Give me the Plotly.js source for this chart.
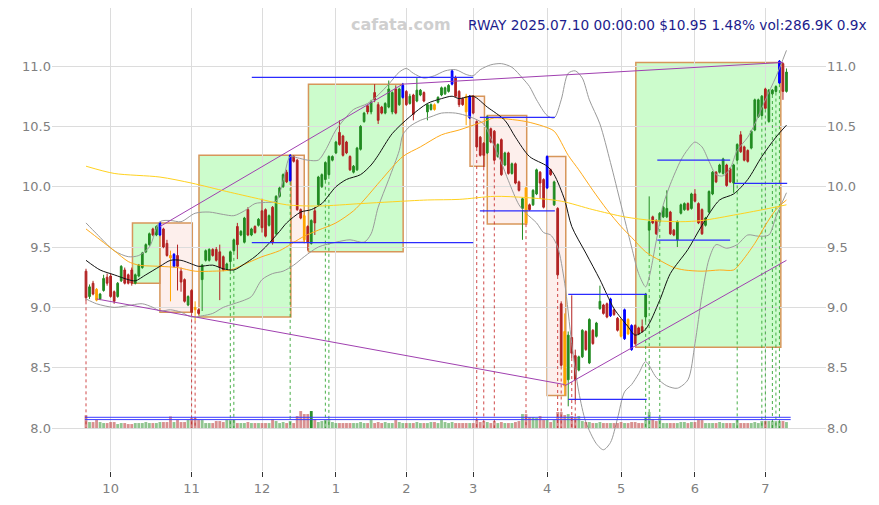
<!DOCTYPE html>
<html><head><meta charset="utf-8">
<script src="https://cdn.plot.ly/plotly-3.0.1.min.js"></script>
<style>html,body{margin:0;padding:0;background:#fff;} #chart{width:879px;height:505px;}</style>
</head><body><div id="chart"></div>
<script>
// ---- daily candles (trading-day index 0..199, 2024-09-20 .. 2025-07-10) ----
const openP = [
9.30,9.09,9.20,9.15,9.07,9.14,9.25,9.26,9.13,9.09,
9.22,9.31,9.27,9.31,9.20,9.26,9.33,9.46,9.52,9.65,
9.60,9.60,9.65,9.53,9.43,9.34,9.43,9.30,9.23,9.02,
9.14,9.00,8.98,9.23,9.39,9.39,9.48,9.48,9.46,9.42,
9.32,9.38,9.47,9.67,9.60,9.54,9.81,9.60,9.67,9.68,
9.80,9.81,9.68,9.83,9.61,9.92,10.00,10.12,10.05,10.25,
10.22,9.81,9.76,9.67,9.53,9.80,9.85,10.00,10.06,10.10,
10.22,10.28,10.45,10.42,10.37,10.25,10.12,10.14,10.31,10.54,
10.67,10.62,10.78,10.68,10.66,10.61,10.66,10.62,10.81,10.68,
10.74,10.79,10.69,10.76,10.71,10.76,10.78,10.62,10.64,10.68,
10.70,10.76,10.77,10.79,10.85,10.90,10.79,10.73,10.75,10.57,
10.75,10.54,10.41,10.36,10.28,10.48,10.46,10.25,10.39,10.18,
10.28,10.11,10.19,10.04,9.82,9.99,9.85,9.85,9.94,10.12,
10.06,9.99,10.14,9.85,9.82,9.03,8.80,8.40,8.75,8.60,
8.48,8.59,8.80,8.54,8.81,8.76,8.99,9.02,9.03,8.93,
8.98,8.91,8.90,8.74,8.90,8.85,8.85,8.83,8.84,8.92,
9.64,9.75,9.72,9.71,9.75,9.75,9.79,9.64,9.56,9.78,
9.81,9.86,9.82,9.94,9.86,9.81,9.68,9.79,9.94,10.12,
10.12,10.11,10.18,10.15,10.03,10.22,10.43,10.33,10.30,10.32,
10.47,10.58,10.59,10.81,10.54,10.77,10.79,10.86,11.02,10.79];
const highP = [
9.32,9.19,9.22,9.16,9.12,9.27,9.28,9.28,9.14,9.21,
9.35,9.33,9.28,9.33,9.28,9.36,9.46,9.53,9.62,9.66,
9.68,9.71,9.66,9.56,9.47,9.45,9.52,9.33,9.24,9.10,
9.15,9.05,8.99,9.36,9.48,9.49,9.49,9.50,9.52,9.43,
9.37,9.47,9.57,9.70,9.64,9.75,9.83,9.66,9.68,9.74,
9.90,9.82,9.77,9.84,9.93,10.00,10.11,10.14,10.27,10.26,
10.23,9.82,9.77,9.68,9.73,9.83,10.09,10.11,10.21,10.26,
10.26,10.38,10.55,10.43,10.38,10.26,10.18,10.33,10.51,10.62,
10.68,10.72,10.85,10.70,10.67,10.70,10.88,10.79,10.84,10.82,
10.86,10.80,10.77,10.77,10.90,10.81,10.79,10.69,10.69,10.69,
10.75,10.83,10.83,10.85,10.97,10.92,10.80,10.74,10.77,10.76,
10.76,10.55,10.42,10.37,10.59,10.49,10.47,10.36,10.40,10.29,
10.29,10.20,10.20,10.05,9.91,10.00,9.86,9.98,10.15,10.13,
10.07,10.26,10.15,10.05,9.83,9.05,8.95,8.80,9.10,8.65,
8.60,8.82,8.81,8.91,8.82,8.88,9.18,9.03,9.04,9.08,
8.99,8.92,8.91,8.99,8.91,8.86,8.86,8.84,8.90,9.12,
9.92,9.76,9.73,9.79,9.84,9.97,9.80,9.65,9.72,9.86,
9.87,9.87,9.95,9.98,9.87,9.82,9.75,9.97,10.13,10.13,
10.19,10.24,10.19,10.16,10.19,10.36,10.46,10.34,10.31,10.47,
10.73,10.73,10.76,10.82,10.81,10.81,10.84,11.05,11.03,10.98];
const lowP = [
9.05,9.07,9.10,9.05,9.06,9.13,9.18,9.08,9.03,9.08,
9.21,9.19,9.19,9.18,9.19,9.25,9.32,9.45,9.51,9.59,
9.59,9.59,9.49,9.42,9.05,9.33,9.14,9.13,9.04,9.01,
8.95,8.89,8.94,8.97,9.38,9.38,9.42,9.38,9.06,9.30,
9.31,9.30,9.46,9.40,9.59,9.53,9.59,9.59,9.61,9.67,
9.62,9.58,9.67,9.52,9.60,9.91,9.99,10.03,10.04,10.20,
9.80,9.73,9.53,9.47,9.52,9.60,9.84,9.99,10.05,10.09,
10.21,10.27,10.34,10.25,10.27,10.13,10.11,10.13,10.30,10.53,
10.60,10.60,10.70,10.52,10.60,10.60,10.65,10.60,10.60,10.67,
10.73,10.67,10.68,10.55,10.70,10.75,10.70,10.55,10.63,10.63,
10.69,10.75,10.76,10.78,10.84,10.74,10.66,10.67,10.51,10.56,
10.60,10.32,10.25,10.16,10.27,10.36,10.21,10.24,10.09,10.17,
10.10,10.10,10.02,9.96,9.56,9.69,9.80,9.84,9.93,9.90,
9.82,9.98,10.09,9.84,9.26,8.51,8.27,8.18,8.58,8.22,
8.47,8.58,8.64,8.53,8.69,8.75,8.98,8.94,8.91,8.92,
8.93,8.80,8.75,8.73,8.77,8.64,8.69,8.77,8.79,8.88,
9.45,9.69,9.60,9.70,9.74,9.74,9.60,9.59,9.50,9.77,
9.80,9.80,9.81,9.87,9.69,9.60,9.67,9.78,9.93,10.03,
10.11,10.10,10.00,10.03,9.95,10.21,10.28,10.21,10.20,10.31,
10.46,10.57,10.58,10.64,10.53,10.76,10.78,10.85,10.72,10.78];
const closeP = [
9.08,9.17,9.11,9.06,9.11,9.24,9.20,9.09,9.05,9.20,
9.34,9.20,9.20,9.20,9.27,9.35,9.45,9.52,9.61,9.60,
9.67,9.70,9.50,9.43,9.41,9.44,9.34,9.21,9.05,9.09,
8.96,8.98,8.95,9.35,9.47,9.48,9.43,9.39,9.33,9.31,
9.36,9.46,9.56,9.52,9.63,9.74,9.60,9.65,9.62,9.73,
9.66,9.59,9.76,9.54,9.92,9.99,10.10,10.04,10.26,10.21,
9.81,9.74,9.56,9.54,9.72,9.70,10.08,10.10,10.20,10.25,
10.25,10.37,10.35,10.26,10.28,10.14,10.17,10.32,10.50,10.61,
10.62,10.70,10.72,10.55,10.61,10.69,10.81,10.78,10.61,10.81,
10.84,10.68,10.75,10.60,10.80,10.80,10.71,10.68,10.68,10.64,
10.74,10.82,10.82,10.84,10.96,10.75,10.68,10.68,10.62,10.75,
10.61,10.33,10.26,10.26,10.58,10.37,10.22,10.35,10.10,10.28,
10.11,10.19,10.03,9.97,9.90,9.70,9.81,9.97,10.14,10.03,
9.83,10.25,10.10,10.04,9.27,8.52,8.35,8.77,8.62,8.40,
8.59,8.81,8.65,8.90,8.70,8.87,9.05,8.95,8.92,9.07,
8.94,8.81,8.76,8.98,8.78,8.65,8.70,8.78,8.80,9.11,
9.71,9.70,9.61,9.78,9.83,9.82,9.61,9.60,9.71,9.85,
9.86,9.81,9.94,9.88,9.70,9.61,9.74,9.96,10.12,10.04,
10.18,10.23,10.01,10.04,10.18,10.35,10.29,10.22,10.21,10.46,
10.72,10.72,10.75,10.65,10.80,10.80,10.83,11.04,10.79,10.95];
// volume in thousands of shares
const volumeK = [
610,288,288,384,288,240,240,288,288,192,
240,240,192,192,240,240,240,288,240,240,
240,288,288,288,560,288,384,288,288,384,
480,480,384,384,240,240,240,336,336,288,
384,384,384,240,240,240,288,240,240,240,
240,240,240,432,336,240,288,240,336,240,
576,816,672,672,816,432,288,336,384,432,
288,240,240,240,240,240,240,240,288,240,
240,384,240,288,240,288,240,240,384,288,
240,240,240,240,288,240,240,240,288,288,
240,384,288,240,288,240,240,240,240,240,
240,384,288,336,288,240,336,240,288,240,
240,240,288,336,672,672,528,528,480,576,
384,384,288,384,768,768,624,672,576,528,
576,336,288,288,240,240,288,240,240,240,
240,240,288,240,240,288,288,240,240,528,
768,432,336,480,240,240,240,240,240,288,
288,240,288,288,384,384,240,240,240,240,
288,240,240,240,240,432,240,240,240,240,
288,240,336,336,336,336,336,336,336,287];
const volHighlight = [64];
const volLevels = [515, 405];

// highlighted candles
const blueIdx = [21,25,58,90,104,109,131,149,153,155,197];
const orangeIdx = [3,24,31,62,99,108,125,136,152,154];
// dotted signal drops
const dotRedIdx = [0,30,31,111,113,116,125,134,135,138,139];
const dotGreenIdx = [41,42,58,68,69,159,160,163,185,192,193,195,196,197];

// month ticks (first trading day of each month)
const monthIdx = [7,30,50,71,91,110,131,152,173,193];
const monthLbl = ['10','11','12','1','2','3','4','5','6','7'];

const ma20X = [0,4,8,12,14,17,21,24,27,30,32,36,39,42,45,48,51,55,57,61,64,67,69,71,74,78,81,83,87,92,97,101,104,106,110,114,119,122,126,131,133,136,138,142,146,150,154,156,159,163,166,171,175,180,184,188,192,196,199];
const ma20Y = [9.39,9.31,9.27,9.23,9.22,9.27,9.34,9.39,9.39,9.36,9.34,9.35,9.32,9.31,9.36,9.42,9.50,9.63,9.70,9.79,9.81,9.86,9.93,10.00,10.06,10.10,10.18,10.26,10.44,10.58,10.69,10.73,10.75,10.73,10.75,10.66,10.55,10.41,10.25,10.17,10.10,9.89,9.67,9.45,9.23,8.99,8.84,8.77,8.82,9.06,9.28,9.48,9.68,9.89,9.94,10.06,10.25,10.41,10.51];
const bbUpX = [0,3,8,12,15,18,21,24,27,31,35,39,42,45,48,51,54,56,58,60,63,66,68,71,74,76,80,83,86,89,91,93,96,99,102,105,108,110,112,115,118,121,124,126,128,131,133,135,137,139,141,143,146,149,152,155,157,159,160,162,164,166,169,171,173,175,177,179,181,183,185,188,190,193,196,199];
const bbUpY = [9.70,9.61,9.47,9.42,9.43,9.50,9.71,9.72,9.71,9.78,9.79,9.77,9.76,9.80,9.86,9.87,9.88,10.05,10.25,10.24,10.22,10.22,10.30,10.47,10.58,10.64,10.69,10.76,10.85,10.95,10.98,10.94,10.90,10.92,10.96,10.97,10.93,10.92,10.97,11.01,11.02,10.99,10.90,10.83,10.72,10.59,10.57,10.72,10.94,10.96,10.90,10.72,10.52,10.20,9.85,9.50,9.28,9.17,9.25,9.55,9.85,10.02,10.22,10.31,10.37,10.33,10.21,10.10,10.09,10.15,10.30,10.41,10.52,10.72,10.91,11.13];
const bbLoX = [0,3,8,13,16,19,21,24,27,30,33,36,39,42,45,47,50,53,56,59,62,66,71,75,79,81,83,86,89,90,92,95,98,101,105,109,113,115,118,120,123,125,128,130,132,134,136,138,140,142,145,147,149,151,153,155,157,159,162,165,168,171,173,175,177,179,182,185,188,191,194,196,199];
const bbLoY = [9.07,9.03,9.00,9.02,9.03,9.00,8.97,8.98,8.96,8.92,8.93,8.95,9.00,9.03,9.06,9.09,9.23,9.28,9.30,9.35,9.42,9.50,9.54,9.56,9.54,9.61,9.83,10.06,10.30,10.43,10.50,10.55,10.58,10.61,10.61,10.58,10.52,10.40,10.20,10.05,9.85,9.78,9.70,9.62,9.60,9.50,9.20,8.70,8.30,8.05,7.87,7.82,7.88,8.08,8.30,8.36,8.45,8.55,8.42,8.35,8.33,8.40,8.70,9.10,9.40,9.52,9.49,9.52,9.60,9.59,9.60,9.75,9.95];
const ma50X = [0,4,8,12,15,21,26,31,36,41,46,50,55,62,66,71,76,79,84,90,95,101,106,112,116,120,125,130,133,137,140,144,148,152,155,159,163,167,170,175,180,184,186,190,193,196,199];
const ma50Y = [9.65,9.56,9.47,9.38,9.35,9.34,9.33,9.30,9.30,9.31,9.37,9.42,9.47,9.59,9.64,9.70,9.80,9.89,10.06,10.25,10.33,10.43,10.47,10.53,10.57,10.56,10.54,10.50,10.46,10.26,10.14,9.97,9.81,9.67,9.58,9.46,9.39,9.33,9.31,9.30,9.31,9.31,9.37,9.53,9.68,9.81,9.89];
const ma200X = [0,8,21,30,40,49,57,66,78,87,97,106,116,125,135,144,153,161,169,175,185,194,199];
const ma200Y = [10.17,10.11,10.08,10.03,9.96,9.90,9.85,9.84,9.86,9.875,9.89,9.895,9.92,9.91,9.88,9.81,9.75,9.72,9.71,9.72,9.77,9.82,9.85];

// trend lines (segments separated by null)
const trendX = [3,136,null,21,90,null,90,198,null,136,199];
const trendY = [9.07,8.36,null,9.67,10.85,null,10.85,11.03,null,8.35,9.39];
// support / resistance levels
const levelX0 = [47.1,47.1,111.9,111.9,137,137,162.3,162.3,184.1];
const levelX1 = [110,110,133.2,133.2,159.3,159.3,183,183,199.2];
const levelY  = [10.906,9.536,10.575,9.80,9.108,8.238,10.221,9.558,10.028];
// consolidation boxes
const boxX0 = [13.2,21.0,32.1,58.2,63.2,109.1,114.0,131.0,156.2];
const boxX1 = [21.0,30.2,58.2,62.0,90.1,113.2,125.2,136.3,197.4];
const boxLo = [9.20,8.96,8.92,9.54,9.46,10.17,9.69,8.27,8.67];
const boxHi = [9.70,9.70,10.26,10.26,10.85,10.75,10.59,10.25,11.03];
const boxKind = ['g','p','g','p','g','p','p','p','g'];

const titleText = 'RWAY 2025.07.10 00:00:00 $10.95 1.48% vol:286.9K 0.9x';
const watermark = 'cafata.com';

// ---------------- build ----------------
const idx = openP.map((_, i) => i);
const special = new Set(blueIdx.concat(orangeIdx));
const pick = (arr, list) => list.map(i => arr[i]);
const mainIdx = idx.filter(i => !special.has(i));

const yRange = [7.644, 11.481];
const baseP = 8.0;
const pxPerUnit = 463 / (yRange[1] - yRange[0]);
const kPerPx = 48;
const volRange = [(yRange[0] - baseP) * pxPerUnit * kPerPx, (yRange[1] - baseP) * pxPerUnit * kPerPx];

const GREEN = '#228b22', RED = '#b22222';
const traces = [];

// volume bars
traces.push({
  type: 'bar', x: idx, y: volumeK, yaxis: 'y2', width: 0.8,
  marker: { color: idx.map(i => {
    const up = closeP[i] >= openP[i];
    if (volHighlight.includes(i)) return up ? 'rgba(34,139,34,0.95)' : 'rgba(178,34,34,0.95)';
    return up ? 'rgba(34,139,34,0.5)' : 'rgba(178,34,34,0.5)';
  }), line: { width: 0 } },
  hoverinfo: 'skip'
});
// volume level lines
const vlx = [], vly = [];
volLevels.forEach(v => { vlx.push(-0.3, 200.2, null); vly.push(v, v, null); });
traces.push({ type: 'scatter', mode: 'lines', x: vlx, y: vly, yaxis: 'y2', line: { color: '#3a3aff', width: 1 }, hoverinfo: 'skip' });

// dotted drops
function drops(list) {
  const xs = [], ys = [];
  list.forEach(i => { xs.push(i, i, null); ys.push(lowP[i], baseP, null); });
  return [xs, ys];
}
const [drx, dry] = drops(dotRedIdx);
const [dgx, dgy] = drops(dotGreenIdx);
traces.push({ type: 'scatter', mode: 'lines', x: drx, y: dry, line: { color: 'rgba(200,40,40,0.85)', width: 1, dash: 'dot' }, hoverinfo: 'skip' });
traces.push({ type: 'scatter', mode: 'lines', x: dgx, y: dgy, line: { color: 'rgba(40,160,40,0.85)', width: 1, dash: 'dot' }, hoverinfo: 'skip' });

// bands and averages
const lineTrace = (x, y, color, axis) => ({ type: 'scatter', mode: 'lines', x, y, yaxis: axis || 'y', line: { color, width: 1, shape: 'spline', smoothing: 0.8 }, hoverinfo: 'skip' });
traces.push(lineTrace(bbUpX, bbUpY, '#9a9a9a'));
traces.push(lineTrace(bbLoX, bbLoY, '#9a9a9a'));
traces.push(lineTrace(ma200X, ma200Y, '#ffd21f', 'y3'));
traces.push(lineTrace(ma50X, ma50Y, '#ffab1a'));
traces.push(lineTrace(ma20X, ma20Y, '#111111'));

// trend lines
traces.push({ type: 'scatter', mode: 'lines', x: trendX, y: trendY, line: { color: '#a040b0', width: 1 }, hoverinfo: 'skip' });
// levels
const lx = [], ly = [];
levelY.forEach((v, k) => { lx.push(levelX0[k], levelX1[k], null); ly.push(v, v, null); });
traces.push({ type: 'scatter', mode: 'lines', x: lx, y: ly, line: { color: '#2b2bff', width: 1.2 }, hoverinfo: 'skip' });

// candles
function candle(list, upColor, downColor) {
  return {
    type: 'candlestick', x: list, open: pick(openP, list), high: pick(highP, list), low: pick(lowP, list), close: pick(closeP, list),
    increasing: { line: { color: upColor, width: 1 }, fillcolor: upColor },
    decreasing: { line: { color: downColor, width: 1 }, fillcolor: downColor },
    whiskerwidth: 0, hoverinfo: 'skip'
  };
}
traces.push(candle(mainIdx, GREEN, RED));
traces.push(candle(blueIdx, '#0000ff', '#0000ff'));
traces.push(candle(orangeIdx, '#ffa500', '#ffa500'));

const shapes = boxX0.map((x0, k) => ({
  type: 'rect', xref: 'x', yref: 'y', x0, x1: boxX1[k], y0: boxLo[k], y1: boxHi[k], layer: 'below',
  fillcolor: boxKind[k] === 'g' ? 'rgba(0,240,0,0.2)' : 'rgba(240,100,70,0.1)',
  line: { color: 'rgb(215,150,90)', width: 1.5 }
}));

const tickFont = { family: 'DejaVu Sans', size: 13, color: '#808080' };
const layout = {
  width: 879, height: 505,
  margin: { l: 52, r: 53, t: 8, b: 34 },
  paper_bgcolor: '#ffffff', plot_bgcolor: '#ffffff',
  showlegend: false, barmode: 'overlay',
  xaxis: {
    range: [-9.66, 210.23], tickmode: 'array', tickvals: monthIdx, ticktext: monthLbl,
    showgrid: true, gridcolor: '#dcdcdc', gridwidth: 1, zeroline: false, showline: false,
    ticks: 'outside', ticklen: 5, tickcolor: '#333', tickwidth: 1, tickfont: tickFont,
    rangeslider: { visible: false }
  },
  yaxis: {
    range: yRange, tick0: 8, dtick: 0.5, tickformat: '.1f', showgrid: true, gridcolor: '#dcdcdc',
    zeroline: false, showline: false, ticks: '', tickfont: tickFont
  },
  yaxis2: { overlaying: 'y', range: volRange, visible: false, showgrid: false, zeroline: false },
  yaxis3: {
    overlaying: 'y', side: 'right', range: yRange, tick0: 8, dtick: 0.5, tickformat: '.1f',
    showgrid: false, zeroline: false, showline: false, ticks: '', tickfont: tickFont
  },
  shapes,
  annotations: [
    { xref: 'paper', yref: 'paper', x: (869 - 52) / 774, y: (471 - 25) / 463, xanchor: 'right', yanchor: 'middle',
      text: titleText, showarrow: false, font: { family: 'DejaVu Sans', size: 13.7, color: '#1c1c8c' } },
    { xref: 'paper', yref: 'paper', x: (401 - 52) / 774, y: (471 - 25) / 463, xanchor: 'center', yanchor: 'middle',
      text: '<b>' + watermark + '</b>', showarrow: false, font: { family: 'DejaVu Sans', size: 16, color: '#cfcfcf' } }
  ]
};

Plotly.newPlot('chart', traces, layout, { staticPlot: true, displayModeBar: false });
</script>
</body></html>
